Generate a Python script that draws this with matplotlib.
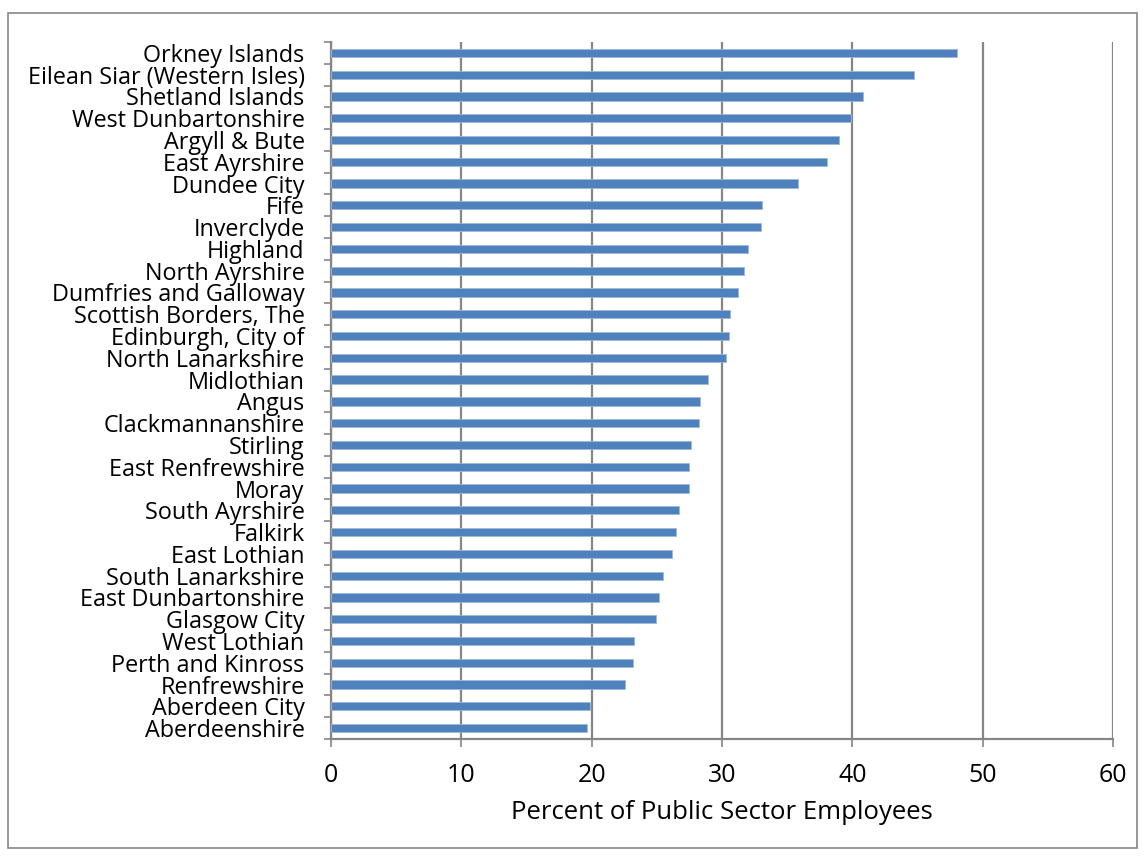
import matplotlib.pyplot as plt
from matplotlib.patches import Rectangle

# Share of employees working in the public sector, by council area
areas = [
    "Orkney Islands", "Eilean Siar (Western Isles)", "Shetland Islands",
    "West Dunbartonshire", "Argyll & Bute", "East Ayrshire", "Dundee City",
    "Fife", "Inverclyde", "Highland", "North Ayrshire", "Dumfries and Galloway",
    "Scottish Borders, The", "Edinburgh, City of", "North Lanarkshire",
    "Midlothian", "Angus", "Clackmannanshire", "Stirling", "East Renfrewshire",
    "Moray", "South Ayrshire", "Falkirk", "East Lothian", "South Lanarkshire",
    "East Dunbartonshire", "Glasgow City", "West Lothian", "Perth and Kinross",
    "Renfrewshire", "Aberdeen City", "Aberdeenshire",
]
percent = [
    48.0, 44.7, 40.8, 39.9, 39.0, 38.05, 35.8, 33.05, 33.0, 32.0, 31.7,
    31.2, 30.6, 30.55, 30.3, 28.95, 28.3, 28.2, 27.65, 27.5, 27.45, 26.7,
    26.5, 26.15, 25.5, 25.15, 24.9, 23.25, 23.2, 22.55, 19.9, 19.65,
]
xticks = [0, 10, 20, 30, 40, 50, 60]

plt.rcParams['font.family'] = ['Open Sans', 'DejaVu Sans']
grey = '#868686'

fig = plt.figure(figsize=(11.44, 8.57), dpi=100)
ax = fig.add_axes([331 / 1144, 1 - 739 / 857, (1113 - 331) / 1144, (739 - 42) / 857])

pos = list(range(len(areas)))
ax.barh(pos, percent, height=0.38, color='#4F81BD', edgecolor='#9DB9DC',
        linewidth=0.6, zorder=3)

ax.set_ylim(len(areas) - 0.5, -0.5)
ax.set_xlim(0, 60)
ax.set_xticks(xticks)
ax.set_xticklabels([str(t) for t in xticks], fontsize=18)
ax.xaxis.grid(True, color=grey, linewidth=1.6, zorder=0)

# category labels centred on bars, tick marks on the boundaries between them
ax.set_yticks(pos)
ax.set_yticklabels(areas, fontsize=16.8)
ax.tick_params(axis='y', length=0, pad=19)
ax.set_yticks([p - 0.5 for p in pos] + [len(areas) - 0.5], minor=True)
ax.tick_params(axis='y', which='minor', length=5, width=1.2, color=grey)
ax.tick_params(axis='x', length=6, width=1.2, color=grey, pad=11)

for side in ('top', 'right'):
    ax.spines[side].set_visible(False)
for side in ('left', 'bottom'):
    ax.spines[side].set_color(grey)
    ax.spines[side].set_linewidth(1.6)

ax.set_xlabel('Percent of Public Sector Employees', fontsize=18.5, labelpad=9)

# chart frame
fig.patches.append(Rectangle((8 / 1144, 1 - 848 / 857), 1129 / 1144, 835 / 857,
                             transform=fig.transFigure, fill=False,
                             edgecolor=grey, linewidth=1.2))

fig.savefig('out.png', dpi=100)
